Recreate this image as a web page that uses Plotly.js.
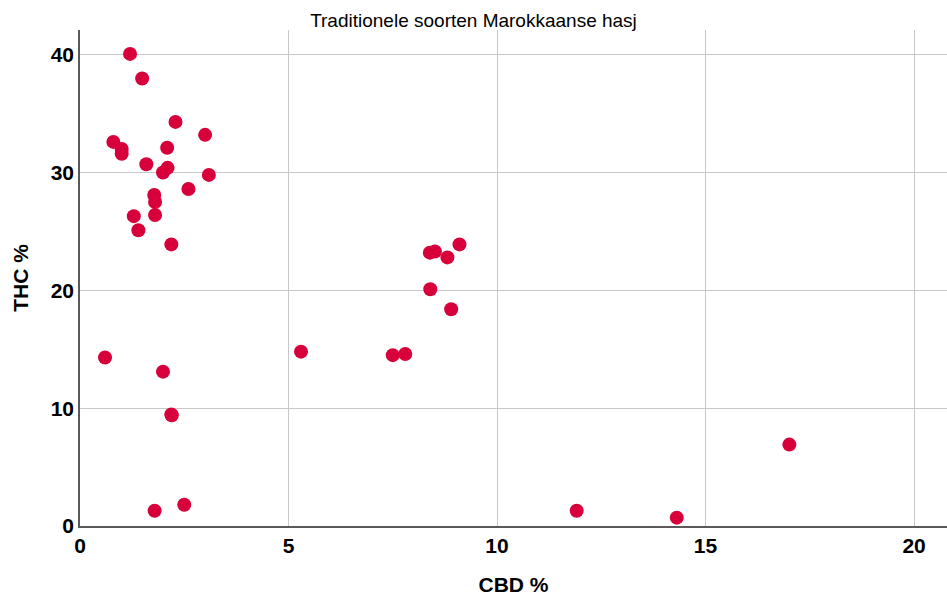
<!DOCTYPE html>
<html>
<head>
<meta charset="utf-8">
<script src="https://cdn.plot.ly/plotly-3.0.1.min.js"></script>
<style>html,body{margin:0;padding:0;background:#fff;}#chart{width:947px;height:596px;}</style>
</head>
<body>
<div id="chart"></div>
<script>
// CBD % and THC % per sample
const cbd = [1.20, 1.49, 2.29, 3.00, 0.80, 1.00, 1.00, 2.09, 1.59, 2.10, 1.99, 3.09, 2.60, 1.78,
             1.80, 1.80, 1.29, 1.40, 2.19, 0.60, 1.99, 5.30, 2.19, 2.20, 1.79, 2.50,
             8.39, 8.51, 8.81, 9.10, 8.40, 8.90, 7.50, 7.80, 11.91, 14.31, 17.01];
const thc = [40.07, 37.98, 34.3, 33.2, 32.6, 32.0, 31.6, 32.1, 30.7, 30.4, 30.0, 29.8, 28.6, 28.1,
             27.5, 26.4, 26.3, 25.1, 23.9, 14.3, 13.1, 14.8, 9.46, 9.4, 1.30, 1.81,
             23.2, 23.3, 22.8, 23.9, 20.1, 18.4, 14.5, 14.6, 1.30, 0.71, 6.91];
const xTicks = [0, 5, 10, 15, 20];
const yTicks = [0, 10, 20, 30, 40];

const FONT = "Liberation Sans, Arial, sans-serif";

Plotly.newPlot('chart', [{
  type: 'scatter',
  mode: 'markers',
  x: cbd,
  y: thc,
  marker: {color: '#d7003a', size: 14, line: {width: 0}},
  hoverinfo: 'x+y'
}], {
  width: 947, height: 596,
  margin: {l: 80, r: 0, t: 30, b: 70, pad: 0},
  paper_bgcolor: '#ffffff', plot_bgcolor: '#ffffff',
  showlegend: false,
  title: {text: 'Traditionele soorten Marokkaanse hasj', font: {family: FONT, size: 19, color: '#000'},
          x: 0.5, xref: 'container', xanchor: 'center', y: 0.966, yref: 'container', yanchor: 'middle'},
  xaxis: {
    range: [0, 20.79], tickvals: xTicks, ticktext: xTicks.map(String),
    showgrid: true, gridcolor: '#c8c8c8', gridwidth: 1,
    zeroline: false, showline: true, linecolor: '#5a5a5a', linewidth: 1.5,
    ticks: '', tickfont: {family: FONT, size: 21, color: '#000', weight: 'bold'},
    title: {text: 'CBD %', font: {family: FONT, size: 21, color: '#000', weight: 'bold'}, standoff: 26},
    automargin: false, fixedrange: true
  },
  yaxis: {
    range: [0, 42.1], tickvals: yTicks, ticktext: yTicks.map(String),
    showgrid: true, gridcolor: '#c8c8c8', gridwidth: 1,
    zeroline: false, showline: true, linecolor: '#5a5a5a', linewidth: 1.5,
    ticks: '', ticklen: 0, tickfont: {family: FONT, size: 21, color: '#000', weight: 'bold'},
    title: {text: 'THC %', font: {family: FONT, size: 21, color: '#000', weight: 'bold'}, standoff: 16},
    automargin: false, fixedrange: true
  }
}, {displayModeBar: false, staticPlot: false});
</script>
</body>
</html>
